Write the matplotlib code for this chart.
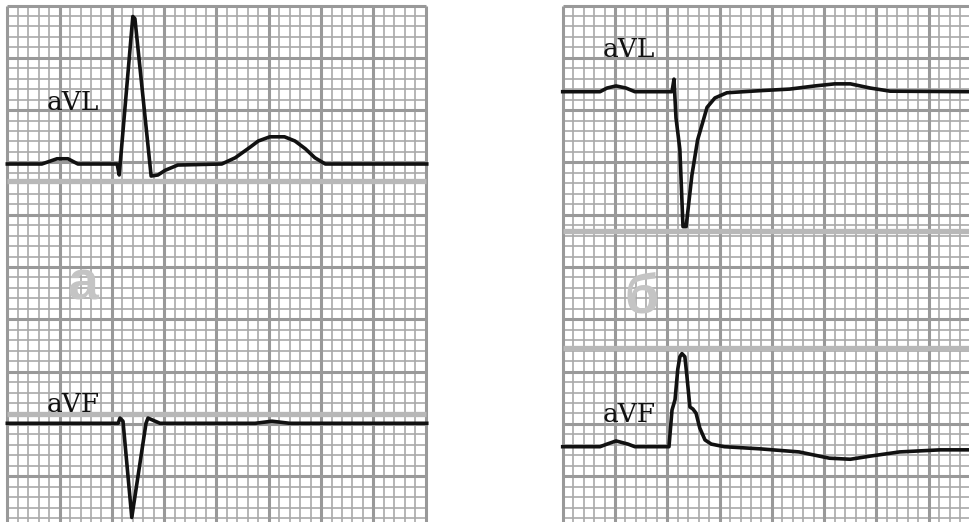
import numpy as np
import matplotlib.pyplot as plt

PX = 10.46  # pixels per 1 mm square of the ECG paper

# traces: time along the strip (mm from panel edge), amplitude (mm above isoline, 10 mm = 1 mV)
avl_a_t = [0, 3.3, 4.75, 5.8, 6.75, 10.5, 10.7, 12.0, 12.2, 13.75, 14.4, 15.1, 16.3,
           20.5, 21.8, 23.2, 24.0, 25.1, 26.5, 27.5, 28.5, 29.4, 30.4, 40.1]
avl_a_amp = [0, 0, 0.5, 0.5, 0, 0, -1.05, 14.1, 13.9, -1.15, -1.05, -0.6, -0.1,
             0, 0.6, 1.6, 2.2, 2.6, 2.6, 2.2, 1.45, 0.6, 0, 0]

avf_a_t = [0, 10.6, 10.77, 11.06, 11.9, 13.26, 13.45, 14.6, 23.7, 25.3, 27.0, 40.1]
avf_a_amp = [0, 0, 0.5, 0.2, -9.0, 0, 0.5, 0, 0, 0.2, 0, 0]

avl_b_t = [0, 3.57, 4.24, 5.1, 6.05, 6.9, 10.45, 10.64, 10.83, 11.2, 11.5, 11.8, 12.35,
           12.9, 13.8, 14.55, 15.7, 18.9, 21.7, 24.1, 26.0, 27.5, 29.4, 31.3, 39.0]
avl_b_amp = [0, 0, 0.35, 0.55, 0.35, 0, 0, 1.2, -2.5, -5.5, -12.9, -12.9, -8.0,
             -4.6, -1.5, -0.6, -0.1, 0.1, 0.25, 0.55, 0.75, 0.75, 0.35, 0.05, 0]

avf_b_t = [0, 3.57, 4.24, 5.1, 6.24, 6.9, 10.16, 10.45, 10.74, 11.0, 11.2, 11.4, 11.68,
           11.87, 12.16, 12.45, 12.75, 13.1, 13.6, 14.2, 15.45, 18.8, 22.6, 25.5, 27.5,
           29.4, 32.2, 36.1, 39.0]
avf_b_amp = [0, 0, 0.25, 0.55, 0.25, 0, 0, 3.5, 4.5, 7.4, 8.6, 8.9, 8.6,
             6.8, 3.8, 3.6, 3.2, 1.8, 0.65, 0.25, 0, -0.2, -0.5, -1.1, -1.2,
             -0.9, -0.5, -0.3, -0.3]

fig = plt.figure(figsize=(9.7, 5.22), dpi=100)
ax = fig.add_axes([0, 0, 1, 1])
ax.set_xlim(0, 970 / PX)
ax.set_ylim(522 / PX, 0)
ax.axis("off")

top = 5.5 / PX
bottom = 522 / PX + 1


def paper(x0, x1):
    xs = np.arange(x0, x1 + 0.01, 1.0)
    ys = np.arange(top, bottom, 1.0)
    xi = np.arange(len(xs))
    yi = np.arange(len(ys))
    ax.vlines(xs[xi % 5 != 0], top, bottom, color="#a9a9a9", lw=1.2, zorder=1)
    ax.hlines(ys[yi % 5 != 0], x0, x1, color="#a9a9a9", lw=1.2, zorder=1)
    ax.vlines(xs[xi % 5 == 0], top, bottom, color="#999999", lw=2.2, zorder=2)
    ax.hlines(ys[yi % 5 == 0], x0, x1, color="#999999", lw=2.2, zorder=2)


# left panel (а)
xa = 7.3 / PX
paper(xa, xa + 40)
for ysep in (181, 414):
    ax.hlines(ysep / PX, xa, xa + 40, color="#b8b8b8", lw=3.8, zorder=3)

# right panel (б)
xb = 562.7 / PX
paper(xb, xb + 40)
for ysep in (230.5, 347.5):
    ax.hlines(ysep / PX, xb, xb + 40, color="#b8b8b8", lw=3.8, zorder=3)

traces = [
    (xa, 164.0, avl_a_t, avl_a_amp),
    (xa, 423.3, avf_a_t, avf_a_amp),
    (xb, 91.7, avl_b_t, avl_b_amp),
    (xb, 446.7, avf_b_t, avf_b_amp),
]
for x0, base, t, amp in traces:
    ax.plot(x0 + np.array(t), base / PX - np.array(amp), color="#111111",
            lw=2.6, solid_joinstyle="round", zorder=5)

lead_font = dict(family=["DejaVu Serif"], fontsize=19, color="#111111",
                 ha="center", va="baseline", zorder=6)
ax.text(73 / PX, 110 / PX, "aVL", **lead_font)
ax.text(73 / PX, 412 / PX, "aVF", **lead_font)
ax.text(629 / PX, 57 / PX, "aVL", **lead_font)
ax.text(629 / PX, 422 / PX, "aVF", **lead_font)

big_font = dict(family=["Liberation Sans", "DejaVu Sans"], fontweight="bold", fontsize=40,
                color="#c4c4c4", ha="center", va="baseline", zorder=4)
ax.text(83 / PX, 300 / PX, "а", **big_font)
ax.text(642 / PX, 313 / PX, "б", **big_font)

fig.savefig("out.png", dpi=100)
